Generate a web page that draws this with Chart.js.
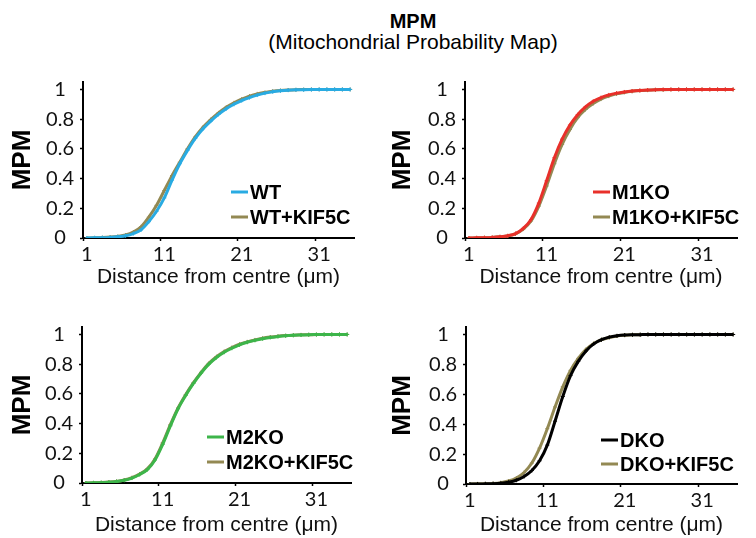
<!DOCTYPE html>
<html>
<head>
<meta charset="utf-8">
<script src="https://cdn.jsdelivr.net/npm/chart.js@4"></script>
<style>
  body { margin: 0; background: #fff; }
  #page { position: relative; width: 756px; height: 538px; overflow: hidden; }
  canvas { position: absolute; }
  .ttl { position: absolute; left: 263px; width: 300px; text-align: center; font-family: "Liberation Sans", Arial, sans-serif; color: #000; white-space: nowrap; }
</style>
</head>
<body>
<div id="page">
  <div class="ttl" style="top:9px;font-size:20px;font-weight:bold;line-height:24px;">MPM</div>
  <div class="ttl" style="top:29px;font-size:21px;line-height:25px;">(Mitochondrial Probability Map)</div>
  <canvas id="c1" width="378" height="232" style="left:0;top:60px"></canvas>
  <canvas id="c2" width="378" height="232" style="left:378px;top:60px"></canvas>
  <canvas id="c3" width="378" height="238" style="left:0;top:300px"></canvas>
  <canvas id="c4" width="378" height="238" style="left:378px;top:300px"></canvas>
</div>
<script>
// distance from centre (um), one category per micron
const DISTANCE = [1, 2, 3, 4, 5, 6, 7, 8, 9, 10, 11, 12, 13, 14, 15, 16, 17, 18, 19, 20,
  21, 22, 23, 24, 25, 26, 27, 28, 29, 30, 31, 32, 33, 34, 35];
const X_TICKS = [1, 11, 21, 31];
const Y_TICKS = [0, 0.2, 0.4, 0.6, 0.8, 1];

// MPM values
const WT = [0, 0.001, 0.002, 0.004, 0.008, 0.015, 0.03, 0.055, 0.11, 0.18, 0.27, 0.39, 0.5, 0.59, 0.67,
  0.735, 0.787, 0.832, 0.87, 0.9, 0.925, 0.945, 0.962, 0.975, 0.985, 0.991, 0.995, 0.997, 0.998, 0.999,
  1, 1, 1, 1, 1];
const WT_KIF5C = [0, 0.001, 0.003, 0.006, 0.011, 0.02, 0.04, 0.075, 0.14, 0.22, 0.32, 0.42, 0.51, 0.6, 0.68,
  0.745, 0.797, 0.842, 0.88, 0.91, 0.935, 0.955, 0.97, 0.98, 0.988, 0.993, 0.996, 0.998, 0.999, 1,
  1, 1, 1, 1, 1];
const M1KO = [0, 0.001, 0.002, 0.004, 0.008, 0.015, 0.03, 0.065, 0.125, 0.235, 0.385, 0.54, 0.665, 0.76, 0.83,
  0.882, 0.92, 0.945, 0.963, 0.975, 0.983, 0.989, 0.993, 0.996, 0.998, 0.999, 1, 1, 1, 1,
  1, 1, 1, 1, 1];
const M1KO_KIF5C = [0, 0.001, 0.002, 0.004, 0.008, 0.014, 0.028, 0.06, 0.115, 0.215, 0.35, 0.5, 0.63, 0.73, 0.81,
  0.865, 0.905, 0.935, 0.955, 0.97, 0.98, 0.987, 0.992, 0.995, 0.997, 0.998, 0.999, 1, 1, 1,
  1, 1, 1, 1, 1];
const M2KO = [0, 0.001, 0.002, 0.005, 0.01, 0.018, 0.033, 0.057, 0.09, 0.155, 0.26, 0.385, 0.5, 0.59, 0.67,
  0.74, 0.8, 0.845, 0.88, 0.907, 0.93, 0.947, 0.96, 0.971, 0.98, 0.986, 0.991, 0.994, 0.996, 0.998,
  0.999, 1, 1, 1, 1];
const M2KO_KIF5C = [0, 0.001, 0.003, 0.006, 0.011, 0.02, 0.036, 0.06, 0.095, 0.162, 0.27, 0.393, 0.505, 0.595, 0.675,
  0.745, 0.805, 0.85, 0.885, 0.912, 0.934, 0.95, 0.963, 0.974, 0.982, 0.988, 0.992, 0.995, 0.997, 0.998,
  0.999, 1, 1, 1, 1];
const DKO = [0, 0, 0.001, 0.002, 0.005, 0.012, 0.025, 0.05, 0.09, 0.155, 0.26, 0.42, 0.585, 0.725, 0.82,
  0.89, 0.937, 0.965, 0.982, 0.991, 0.996, 0.998, 0.999, 1, 1, 1, 1, 1, 1, 1,
  1, 1, 1, 1, 1];
const DKO_KIF5C = [0, 0.001, 0.002, 0.004, 0.009, 0.02, 0.04, 0.077, 0.14, 0.24, 0.37, 0.515, 0.65, 0.76, 0.84,
  0.9, 0.94, 0.965, 0.98, 0.99, 0.995, 0.998, 0.999, 1, 1, 1, 1, 1, 1, 1,
  1, 1, 1, 1, 1];

const OLIVE = '#938953';

const panels = [
  { id: 'c1', labels: ['WT', 'WT+KIF5C'], series: [WT, WT_KIF5C], colors: ['#29ABE2', OLIVE],
    box: { left: 0, top: 60, width: 378, height: 232 }, area: { left: 83, right: 354, top: 82, bottom: 238 },
    titlePad: 2, yTitlePad: 7, legend: { dx: 148, rows: [-46, -21] } },
  { id: 'c2', labels: ['M1KO', 'M1KO+KIF5C'], series: [M1KO, M1KO_KIF5C], colors: ['#E8302A', OLIVE],
    box: { left: 378, top: 60, width: 378, height: 232 }, area: { left: 465, right: 737, top: 82, bottom: 238 },
    titlePad: 2, yTitlePad: 9, legend: { dx: 128, rows: [-46, -21] } },
  { id: 'c3', labels: ['M2KO', 'M2KO+KIF5C'], series: [M2KO, M2KO_KIF5C], colors: ['#3DB54A', OLIVE],
    box: { left: 0, top: 300, width: 378, height: 238 }, area: { left: 82, right: 351, top: 327, bottom: 483 },
    titlePad: 0, yTitlePad: 7, legend: { dx: 125, rows: [-46, -21] } },
  { id: 'c4', labels: ['DKO', 'DKO+KIF5C'], series: [DKO, DKO_KIF5C], colors: ['#000000', OLIVE],
    box: { left: 378, top: 300, width: 378, height: 238 }, area: { left: 466, right: 737, top: 327, bottom: 484 },
    titlePad: 0, yTitlePad: 9, legend: { dx: 135, rows: [-44, -20] } }
];

// legend drawn inside the plot, bottom right like the original
const insideLegend = {
  id: 'insideLegend',
  afterDraw(chart, args, opts) {
    const ctx = chart.ctx;
    const area = chart.chartArea;
    ctx.save();
    chart.data.datasets.forEach((ds, i) => {
      const x = area.left + opts.dx;
      const y = area.bottom + opts.rows[i];
      ctx.strokeStyle = ds.borderColor;
      ctx.lineWidth = 3;
      ctx.beginPath();
      ctx.moveTo(x, y);
      ctx.lineTo(x + 17, y);
      ctx.stroke();
      ctx.fillStyle = '#000';
      ctx.font = 'bold 20px "Liberation Sans"';
      ctx.textAlign = 'left';
      ctx.textBaseline = 'middle';
      ctx.fillText(ds.label, x + 19, y + 1);
    });
    ctx.restore();
  }
};

panels.forEach(p => {
  const datasets = p.series.map((values, i) => ({
    label: p.labels[i],
    data: values,
    borderColor: p.colors[i],
    backgroundColor: p.colors[i],
    borderWidth: 3,
    cubicInterpolationMode: 'monotone',
    pointStyle: 'cross',
    pointRadius: 2,
    pointBorderWidth: 1,
    pointHoverRadius: 0
  }));

  new Chart(document.getElementById(p.id), {
    type: 'line',
    data: { labels: DISTANCE, datasets: datasets },
    options: {
      responsive: false,
      animation: false,
      events: [],
      layout: {
        padding: {
          left: 0,
          top: p.area.top - p.box.top,
          right: p.box.left + p.box.width - p.area.right,
          bottom: 0
        }
      },
      plugins: {
        legend: { display: false },
        tooltip: { enabled: false },
        insideLegend: p.legend
      },
      scales: {
        x: {
          type: 'category',
          offset: true,
          afterFit: s => { s.height = p.box.top + p.box.height - p.area.bottom; },
          border: { display: true, color: '#000', width: 2 },
          grid: {
            offset: true,
            drawOnChartArea: false,
            drawTicks: true,
            tickLength: 3,
            tickWidth: 1.5,
            tickColor: c => (X_TICKS.includes(DISTANCE[c.index]) ? '#000' : 'rgba(0,0,0,0)')
          },
          ticks: {
            autoSkip: false,
            maxRotation: 0,
            padding: 2,
            color: '#111',
            font: { family: 'Lato', size: 20 },
            callback: (v, i) => (X_TICKS.includes(DISTANCE[i]) ? String(DISTANCE[i]) : '')
          },
          title: {
            display: true,
            text: 'Distance from centre (\u03bcm)',
            color: '#111',
            font: { family: 'Liberation Sans', size: 21 },
            padding: { top: 0, bottom: p.titlePad }
          }
        },
        y: {
          min: 0,
          max: 1.05,
          afterFit: s => { s.width = p.area.left - p.box.left; },
          afterBuildTicks: s => { s.ticks = Y_TICKS.map(v => ({ value: v })); },
          border: { display: true, color: '#000', width: 2 },
          grid: {
            drawOnChartArea: false,
            drawTicks: true,
            tickLength: 3,
            tickWidth: 1.5,
            tickColor: '#000'
          },
          ticks: {
            crossAlign: 'center',
            padding: 6,
            color: '#111',
            font: { family: 'Lato', size: 20 },
            callback: v => String(Math.round(v * 10) / 10)
          },
          title: {
            display: true,
            text: 'MPM',
            color: '#000',
            font: { family: 'Liberation Sans', size: 26, weight: 'bold' },
            padding: { top: p.yTitlePad, bottom: 0 }
          }
        }
      }
    },
    plugins: [insideLegend]
  });
});
</script>
</body>
</html>
